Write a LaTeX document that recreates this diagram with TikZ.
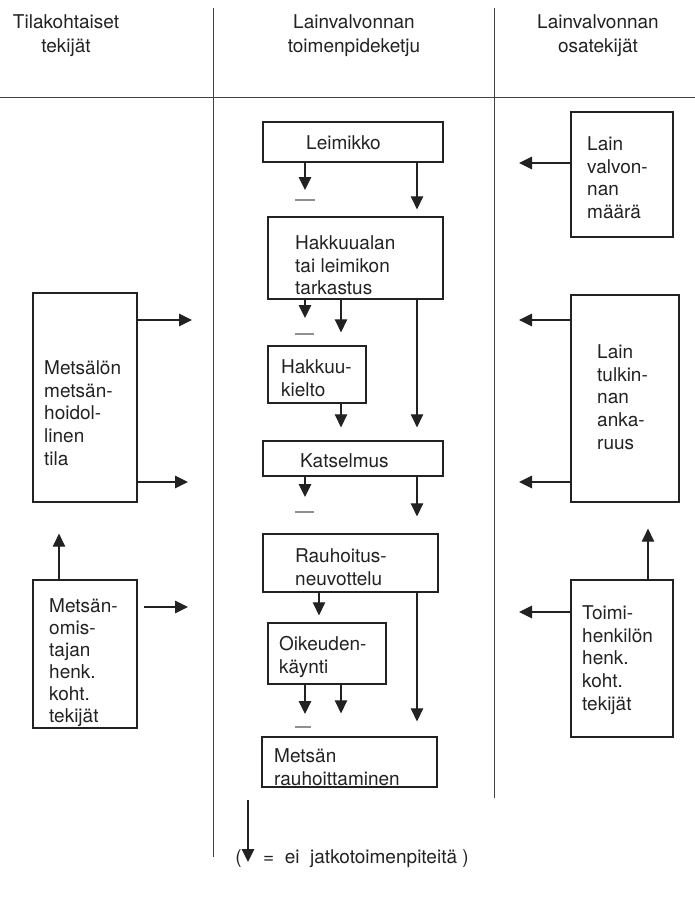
\documentclass[tikz,border=0pt]{standalone}
\usepackage{fontspec}
\setmainfont{TeX Gyre Heros}
\usetikzlibrary{arrows.meta}
\definecolor{ink}{HTML}{222222}
\begin{document}
\begin{tikzpicture}[x=1pt,y=-1pt,
 box/.style={draw=ink,line width=1.3pt,inner sep=0pt,rectangle},
 txt/.style={inner sep=0pt,anchor=north west,align=left,text=ink,font=\fontsize{19}{22.8}\selectfont},
 hdr/.style={inner sep=0pt,anchor=north,align=center,text=ink,font=\fontsize{19}{24}\selectfont},
 arr/.style={draw=ink,line width=1.1pt,-{Triangle[length=13pt,width=12.5pt]}},
 bar/.style={draw=ink!50,line width=1.1pt},
 rule/.style={draw=ink!85,line width=1pt}]
\useasboundingbox (0,0) rectangle (695,900);

% dividers
\coordinate (d1t) at (213,8); \coordinate (d1b) at (213,857);
\coordinate (d2t) at (494,8); \coordinate (d2b) at (494,798);
\coordinate (hl1) at (0,97); \coordinate (hl2) at (695,97);
\draw[rule] (d1t) -- (d1b);
\draw[rule] (d2t) -- (d2b);
\draw[rule] (hl1) -- (hl2);

% headers
\node[hdr] (h1) at (66,14.3) {Tilakohtaiset\\tekijät};
\node[hdr] (h2) at (354,14.3) {Lainvalvonnan\\toimenpideketju};
\node[hdr] (h3) at (598,14.3) {Lainvalvonnan\\osatekijät};

% centre chain boxes
\node[box,minimum width=180pt,minimum height=40pt] (leim) at (353,142) {};
\node[box,minimum width=175pt,minimum height=82pt] (hakk) at (355.5,258) {};
\node[box,minimum width=98pt,minimum height=57pt] (kielto) at (317,374.5) {};
\node[box,minimum width=180pt,minimum height=35pt] (kats) at (353,458.5) {};
\node[box,minimum width=175pt,minimum height=58pt] (rauh) at (350.5,563) {};
\node[box,minimum width=118pt,minimum height=61pt] (oik) at (327,653.5) {};
\node[box,minimum width=175pt,minimum height=50pt] (mr) at (349.5,762) {};

% side boxes
\node[box,minimum width=104pt,minimum height=209pt] (ml) at (85,397.5) {};
\node[box,minimum width=104pt,minimum height=148pt] (mo) at (85,654) {};
\node[box,minimum width=102pt,minimum height=125pt] (lv) at (622,174.5) {};
\node[box,minimum width=108pt,minimum height=207pt] (lt) at (625,398.5) {};
\node[box,minimum width=102pt,minimum height=157pt] (th) at (622,658.5) {};

% texts
\node[txt] (tleim) at (306,135.3) {Leimikko};
\node[txt] (thakk) at (295,235.3) {Hakkuualan\\tai leimikon\\tarkastus};
\node[txt] (tkielto) at (281,359.3) {Hakkuu-\\kielto};
\node[txt] (tkats) at (300,453.3) {Katselmus};
\node[txt] (trauh) at (295,548.3) {Rauhoitus-\\neuvottelu};
\node[txt] (toik) at (279,636.3) {Oikeuden-\\käynti};
\node[txt] (tmr) at (274,748.3) {Metsän\\rauhoittaminen};
\node[txt] (tml) at (44,360.3) {Metsälön\\metsän-\\hoidol-\\linen\\tila};
\node[txt,font=\fontsize{19}{22}\selectfont] (tmo) at (49,598.3) {Metsän-\\omis-\\tajan\\henk.\\koht.\\tekijät};
\node[txt] (tlv) at (587,136.3) {Lain\\valvon-\\nan\\määrä};
\node[txt] (tlt) at (597,344.3) {Lain\\tulkin-\\nan\\anka-\\ruus};
\node[txt] (tth) at (582,605.3) {Toimi-\\henkilön\\henk.\\koht.\\tekijät};

% x positions
\coordinate (xa) at (305,0);
\coordinate (xb) at (341,0);
\coordinate (xc) at (417,0);
\coordinate (xd) at (319,0);
\coordinate (xu) at (59,0);
\coordinate (xv) at (648,0);

% centre arrows
\coordinate (e1) at (305,190);
\coordinate (e2) at (305,318);
\coordinate (e3) at (305,497);
\coordinate (e4) at (305,714);
\draw[arr] (leim.south -| xa) -- (e1);
\draw[bar] (295,200) -- (315,200);
\draw[arr,shorten >=7pt] (leim.south -| xc) -- (hakk.north -| xc);
\draw[arr] (hakk.south -| xa) -- (e2);
\draw[bar] (295,334) -- (314,334);
\draw[arr,shorten >=13pt] (hakk.south -| xb) -- (kielto.north -| xb);
\draw[arr,shorten >=13pt] (hakk.south -| xc) -- (kats.north -| xc);
\draw[arr,shorten >=13pt] (kielto.south -| xb) -- (kats.north -| xb);
\draw[arr] (kats.south -| xa) -- (e3);
\draw[bar] (295,512) -- (314,512);
\draw[arr,shorten >=17pt] (kats.south -| xc) -- (rauh.north -| xc);
\draw[arr,shorten >=7pt] (rauh.south -| xd) -- (oik.north -| xd);
\draw[arr,shorten >=15pt] (rauh.south -| xc) -- (mr.north -| xc);
\draw[arr] (oik.south -| xa) -- (e4);
\draw[bar] (295,727) -- (311,727);
\draw[arr,shorten >=23pt] (oik.south -| xb) -- (mr.north -| xb);

% left arrows
\coordinate (l1) at (192,320);
\coordinate (l2) at (188,482);
\coordinate (l3) at (188,607);
\draw[arr] (ml.east |- l1) -- (l1);
\draw[arr] (ml.east |- l2) -- (l2);
\draw[arr,shorten <=6pt] (mo.east |- l3) -- (l3);
\draw[arr,shorten >=31pt] (mo.north -| xu) -- (ml.south -| xu);

% right arrows
\coordinate (r1) at (519,163);
\coordinate (r2) at (519,320);
\coordinate (r3) at (519,482);
\coordinate (r4) at (519,612);
\draw[arr] (lv.west |- r1) -- (r1);
\draw[arr] (lt.west |- r2) -- (r2);
\draw[arr] (lt.west |- r3) -- (r3);
\draw[arr] (th.west |- r4) -- (r4);
\draw[arr,shorten >=26pt] (th.north -| xv) -- (lt.south -| xv);

% legend
\coordinate (lg1) at (248,800);
\coordinate (lg2) at (248,862);
\draw[arr] (lg1) -- (lg2);
\node[txt,anchor=base east] (lpar) at (242,863) {(};
\node[txt,anchor=base west] (ltext) at (263,863) {=\ \ ei\ \ jatkotoimenpiteitä\ )};
\end{tikzpicture}
\end{document}
